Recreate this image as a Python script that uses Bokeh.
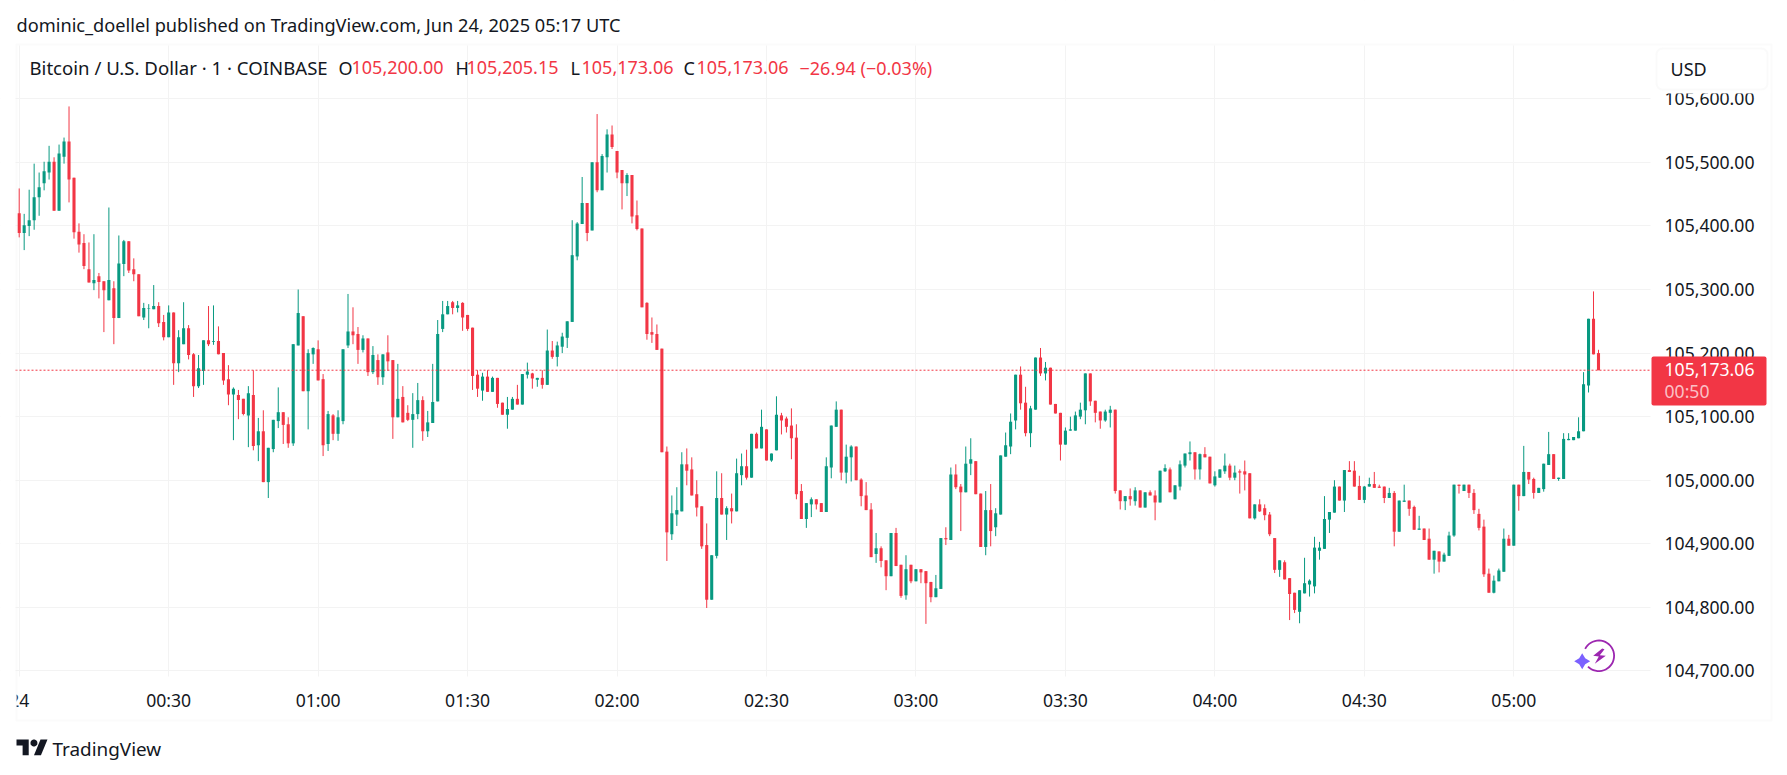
import math
from bokeh.embed import file_html
from bokeh.resources import INLINE
from bokeh.plotting import figure
from bokeh.models import (ColumnDataSource, FixedTicker, NumeralTickFormatter, Label,
                          BoxAnnotation, PolyAnnotation)

title_text = "dominic_doellel published on TradingView.com, Jun 24, 2025 05:17 UTC"
symbol_text = "Bitcoin / U.S. Dollar \u00b7 1 \u00b7 COINBASE"
ohlc_labels = ["O", "H", "L", "C"]
ohlc_values = ["105,200.00", "105,205.15", "105,173.06", "105,173.06"]
change_text = "\u221226.94 (\u22120.03%)"
last_price = 105173.06
price_ticks = [104700, 104800, 104900, 105000, 105100, 105200, 105300, 105400, 105500, 105600]
time_ticks = [0, 30, 60, 90, 120, 150, 180, 210, 240, 270, 300]
time_labels = ["24", "00:30", "01:00", "01:30", "02:00", "02:30", "03:00", "03:30", "04:00", "04:30", "05:00"]

opens = [
105420,105389,105400,105409,105445,105467,105484,105501,105424,105509,
105533,105476,105391,105373,105332,105310,105321,105313,105283,105302,
105255,105340,105376,105332,105324,105256,105270,105269,105274,105249,
105225,105264,105184,105214,105239,105198,105148,105172,105220,105218,
105219,105200,105159,105135,105134,105128,105102,105134,105055,105077,
104997,105049,105093,105107,105088,105058,105212,105258,105140,105198,
105206,105159,105057,105102,105073,105093,105212,105234,105230,105205,
105223,105170,105189,105162,105201,105189,105099,105131,105106,105095,
105104,105126,105077,105090,105124,105238,105261,105280,105271,105279,
105260,105240,105166,105141,105163,105139,105161,105122,105103,105111,
105128,105119,105166,105168,105158,105161,105150,105204,105194,105210,
105224,105249,105352,105403,105436,105393,105500,105456,105508,105544,
105518,105488,105467,105480,105417,105396,105279,105233,105230,105207,
105045,104915,104946,104951,105025,105017,104978,104959,104898,104812,
104881,104972,104946,104956,104951,105008,105022,105004,105073,105050,
105080,105031,105047,105102,105097,105086,105067,104983,104939,104962,
104970,104964,104950,105020,105084,105111,105012,105036,105053,105001,
104976,104954,104884,104893,104874,104849,104917,104867,104819,104867,
104841,104860,104857,104840,104816,104829,104909,104906,105009,104990,
104981,105026,105030,104979,104895,104953,104926,104946,105037,105053,
105094,105166,105122,105074,105111,105193,105168,105177,105120,105106,
105056,105078,105078,105100,105110,105168,105125,105108,105094,105106,
105111,104984,104967,104975,104967,104984,104957,104981,104976,104965,
105014,105017,104970,104990,105023,105041,105044,105017,105041,105037,
104992,105004,105014,105023,105004,105014,105014,105011,104940,104962,
104956,104946,104909,104859,104871,104846,104823,104793,104822,104836,
104833,104889,104892,104938,104949,104990,104968,105016,105015,104991,
104969,104990,104994,104990,104990,104972,104980,104919,104966,104968,
104958,104922,104924,104908,104875,104888,104872,104881,104913,104993,
104983,104993,104980,104947,104927,104853,104823,104841,104856,104908,
104897,104993,104975,105013,105002,104980,104986,105024,105041,105002,
105002,105063,105063,105066,105077,105149,105254,105200]

closes = [
105389,105401,105409,105445,105461,105486,105501,105424,105514,105533,
105473,105390,105371,105337,105311,105315,105312,105299,105315,105255,
105341,105376,105330,105324,105258,105271,105271,105274,105247,105225,
105264,105184,105225,105239,105197,105148,105176,105220,105214,105219,
105198,105157,105135,105144,105126,105104,105137,105054,105077,104997,
105051,105095,105107,105087,105058,105214,105263,105140,105200,105208,
105157,105055,105104,105073,105099,105206,105234,105228,105205,105223,
105170,105197,105162,105198,105187,105099,105128,105091,105095,105104,
105126,105077,105091,105123,105230,105261,105274,105271,105275,105256,
105238,105164,105144,105163,105139,105161,105120,105103,105112,105128,
105119,105167,105171,105160,105161,105150,105204,105194,105212,105226,
105250,105354,105404,105436,105389,105500,105456,105510,105544,105524,
105484,105467,105480,105415,105395,105272,105230,105229,105205,105044,
104918,104948,104953,105025,105015,104976,104957,104896,104812,104882,
104972,104946,104956,104951,105011,105022,105004,105073,105050,105084,
105031,105042,105103,105094,105084,105066,104978,104939,104964,104970,
104962,104950,105022,105086,105111,105012,105037,105053,105000,104975,
104953,104879,104893,104873,104849,104917,104865,104818,104860,104841,
104860,104855,104838,104816,104830,104909,104907,105009,104989,104981,
105026,105033,104978,104895,104953,104920,104948,105039,105055,105092,
105166,105121,105074,105113,105193,105168,105177,105119,105105,105056,
105078,105080,105102,105111,105168,105124,105106,105094,105108,105111,
104983,104967,104975,104970,104984,104957,104981,104976,104965,105015,
105019,104981,104992,105025,105042,105044,105017,105041,105036,104995,
105006,105017,105023,105004,105012,105012,105009,104940,104962,104951,
104945,104915,104859,104874,104844,104821,104796,104827,104838,104842,
104894,104894,104939,104950,104990,104968,105016,105013,104990,104969,
104990,104994,104988,104988,104972,104980,104919,104968,104968,104955,
104922,104924,104906,104875,104889,104872,104883,104913,104993,104991,
104993,104980,104953,104925,104852,104823,104842,104858,104908,104897,
104993,104975,105013,105001,104980,104988,105026,105041,105002,105004,
105065,105065,105068,105077,105151,105254,105198,105173.06]

highs = [
105459,105419,105457,105498,105484,105501,105526,105508,105528,105539,
105588,105476,105404,105387,105374,105387,105326,105313,105429,105313,
105385,105378,105376,105349,105324,105279,105277,105307,105280,105260,
105275,105264,105236,105280,105244,105200,105197,105220,105274,105275,
105242,105200,105181,105146,105142,105128,105148,105173,105098,105110,
105051,105095,105146,105107,105099,105214,105300,105258,105206,105209,
105220,105167,105109,105104,105110,105206,105293,105272,105241,105228,
105223,105211,105198,105198,105228,105189,105183,105148,105118,105137,
105153,105132,105109,105183,105252,105282,105282,105282,105282,105280,
105260,105240,105173,105169,105173,105163,105161,105122,105131,105131,
105150,105167,105185,105169,105161,105173,105237,105219,105218,105232,
105250,105409,105406,105477,105436,105500,105576,105513,105552,105558,
105518,105488,105483,105480,105440,105396,105280,105256,105245,105207,
105053,104976,104989,105044,105050,105036,105000,104959,104932,104882,
105014,105011,104959,104979,105034,105042,105048,105073,105075,105111,
105080,105042,105132,105106,105100,105113,105088,104994,104964,104973,
104970,104964,105036,105086,105124,105111,105056,105055,105053,105003,
104997,104964,104917,104896,104874,104917,104925,104867,104882,104867,
104860,104860,104857,104840,104851,104909,104926,105020,105025,104994,
105053,105066,105030,104979,104983,104994,104956,105039,105075,105105,
105166,105179,105147,105117,105193,105208,105186,105177,105120,105106,
105083,105100,105108,105122,105168,105168,105125,105108,105111,105117,
105111,104984,104975,104987,104989,104984,104981,104984,104984,105015,
105025,105020,104992,105031,105042,105061,105044,105042,105052,105037,
105014,105017,105042,105026,105023,105017,105031,105011,104962,104970,
104962,104950,104909,104874,104874,104846,104823,104827,104878,104844,
104911,104903,104975,104950,105000,104990,105016,105030,105030,105007,
104991,105004,105013,104993,104990,104988,104983,104968,104993,104968,
104960,104944,104924,104924,104889,104888,104886,104919,104993,104993,
104993,104993,104986,104955,104938,104861,104850,104861,104924,104914,
104993,104993,105054,105013,105004,104988,105026,105076,105041,105004,
105074,105074,105068,105099,105170,105254,105297,105205.15]

lows = [
105382,105362,105384,105394,105416,105456,105473,105424,105424,105498,
105437,105380,105358,105332,105311,105299,105286,105233,105283,105214,
105255,105321,105326,105313,105258,105252,105239,105269,105241,105220,
105225,105150,105170,105214,105190,105131,105145,105150,105211,105213,
105198,105150,105118,105063,105096,105102,105052,105047,105030,104997,
104972,105044,105082,105057,105051,105054,105212,105140,105080,105183,
105157,105038,105046,105063,105062,105088,105208,105214,105183,105201,
105164,105167,105150,105150,105172,105065,105099,105091,105093,105051,
105096,105062,105068,105090,105124,105233,105261,105261,105264,105235,
105235,105142,105131,105125,105139,105139,105114,105103,105081,105111,
105119,105119,105160,105144,105147,105144,105150,105191,105179,105200,
105208,105249,105346,105403,105376,105393,105453,105456,105484,105521,
105475,105426,105447,105404,105393,105272,105221,105216,105205,105044,
104873,104906,104928,104951,104992,104976,104943,104892,104799,104812,
104877,104946,104906,104932,104951,104992,105001,105004,105050,105050,
105031,105029,105047,105072,105075,105033,104970,104939,104925,104942,
104954,104950,104950,105003,105084,105000,104995,104998,105000,104959,
104953,104879,104870,104863,104827,104849,104865,104815,104812,104838,
104841,104838,104774,104808,104816,104829,104898,104906,104986,104920,
104981,105008,104978,104895,104882,104896,104912,104946,105037,105041,
105080,105111,105069,105052,105111,105164,105157,105119,105105,105031,
105056,105078,105078,105096,105088,105117,105091,105081,105092,105083,
104979,104954,104953,104960,104960,104957,104957,104976,104937,104965,
105013,104981,104970,104984,105020,105031,105001,105001,105036,104995,
104990,105004,105010,105000,105000,104979,104984,104940,104938,104950,
104937,104912,104854,104848,104844,104780,104791,104775,104822,104817,
104822,104875,104892,104917,104949,104968,104950,105013,104990,104969,
104964,104990,104988,104988,104964,104972,104896,104919,104966,104944,
104922,104922,104906,104875,104853,104855,104872,104881,104911,104979,
104983,104972,104947,104921,104848,104823,104822,104841,104856,104897,
104897,104952,104975,104994,104971,104980,104982,105024,105002,104999,
105002,105063,105063,105066,105077,105138,105198,105173.06]

GREEN = "#089981"
RED = "#F23645"
INK = "#131722"
GRID = "#f3f3f3"
FONT = "Noto Sans"
FS = "18px"

W, H = 1787, 772
PANE_L, PANE_R, PANE_T, PANE_B = 17, 1650, 45, 676   # canvas pixels
PX_PER_BAR = 4.982
PX_PER_USD = 0.6357


def m_at(px):
    return (px - 18.7) / PX_PER_BAR


def price_at(py):
    return 105600 - (py - 98.3) / PX_PER_USD


minutes = list(range(len(opens)))
src = ColumnDataSource(dict(
    t=minutes, o=opens, h=highs, l=lows, c=closes,
    top=[max(a, b) for a, b in zip(opens, closes)],
    bot=[min(a, b) for a, b in zip(opens, closes)],
    col=[GREEN if c >= o else RED for o, c in zip(opens, closes)],
))

p = figure(width=W, height=H, output_backend="svg", toolbar_location=None,
           x_range=(m_at(0), m_at(W)), y_range=(price_at(H), price_at(0)),
           y_axis_location="right", min_border=0,
           background_fill_color="white", border_fill_color="white")
p.outline_line_color = None

p.xaxis.ticker = FixedTicker(ticks=time_ticks)
p.xaxis.major_label_overrides = dict(zip(time_ticks, time_labels))
p.yaxis.ticker = FixedTicker(ticks=price_ticks)
p.yaxis.formatter = NumeralTickFormatter(format="0,0.00")
p.xaxis.fixed_location = price_at(PANE_B)
p.yaxis.fixed_location = m_at(PANE_R)
for ax in (p.xaxis[0], p.yaxis[0]):
    ax.axis_line_color = None
    ax.major_tick_line_color = None
    ax.minor_tick_line_color = None
    ax.major_label_text_font = FONT
    ax.major_label_text_font_size = "17.6px"
    ax.major_label_text_color = INK
p.xaxis.major_label_standoff = 5
p.yaxis.major_label_standoff = 8
p.xgrid.ticker = FixedTicker(ticks=time_ticks)
p.ygrid.ticker = FixedTicker(ticks=price_ticks)
p.xgrid.grid_line_color = GRID
p.ygrid.grid_line_color = GRID
p.xgrid.grid_line_width = 1
p.ygrid.grid_line_width = 1


def box(l, r, t, b, **kw):
    p.add_layout(BoxAnnotation(left=l, right=r, top=t, bottom=b,
                               left_units="canvas", right_units="canvas",
                               top_units="canvas", bottom_units="canvas", **kw))


def poly(pts, color):
    p.add_layout(PolyAnnotation(xs=[a for a, _ in pts], ys=[b for _, b in pts],
                                xs_units="canvas", ys_units="canvas",
                                fill_color=color, fill_alpha=1, line_color=None))


def text(x, y, s, color=INK, size=FS, align="left", alpha=1.0):
    p.add_layout(Label(x=x, y=y, x_units="canvas", y_units="canvas", text=s,
                       text_font=FONT, text_font_size=size, text_color=color, text_alpha=alpha,
                       text_baseline="middle", text_align=align))


# white covers keep the grid inside the chart pane
for rect in [(0, PANE_L - 2, 0, H), (PANE_R, W, 0, H), (0, W, 0, PANE_T), (0, W, PANE_B, H)]:
    box(*rect, fill_color="white", fill_alpha=1, line_color=None, level="underlay")

p.segment("t", "h", "t", "l", source=src, line_color="col", line_width=1)
p.vbar(x="t", top="top", bottom="bot", width=0.62, source=src, fill_color="col", line_color=None)
p.line(x=[m_at(PANE_L - 2), m_at(PANE_R)], y=[last_price, last_price],
       line_color=RED, line_width=1, line_dash=[2, 2])

# cover that clips the first time label, then the widget border
box(0, 16, 676, 720, fill_color="white", fill_alpha=1, line_color=None)
box(16, 1771, 44, 720, fill_alpha=0, line_color=GRID, line_width=2)

text(16, 24, title_text, size="18.2px")
text(29, 67, symbol_text, size="18.6px")
lab_x = [338, 455, 570, 683]
val_x = [351, 466, 581, 696]
for lx, vx, a, b in zip(lab_x, val_x, ohlc_labels, ohlc_values):
    text(lx, 67, a)
    text(vx, 67, b, color=RED)
text(799, 67, change_text, color=RED)

# currency button; its strip hides the top of the highest price label
box(1652, 1770, 88, 93, fill_color="white", fill_alpha=1, line_color=None)
box(1656, 1767, 48, 89, fill_color="white", fill_alpha=1, line_color="#eeeeee", line_width=2,
    border_radius=6)
text(1670, 68, "USD")

# last price tag
box(1651, 1766, 356, 405, fill_color=RED, fill_alpha=1, line_color=None, border_radius=2)
text(1664, 369, "105,173.06", color="white", size="17.6px")
text(1664, 390, "00:50", color="white", alpha=0.7, size="17.6px")

# TradingView logo
LS, LX, LY = 0.873, 16, 735.5


def lg(pts):
    return [(LX + a * LS, LY + b * LS) for a, b in pts]


poly(lg([(0, 4), (14, 4), (14, 22), (7, 22), (7, 11), (0, 11)]), INK)
poly(lg([(28, 22), (20, 22), (27.5, 4), (35.5, 4)]), INK)
poly(lg([(20 + 4 * math.cos(math.radians(d)), 8 + 4 * math.sin(math.radians(d))) for d in range(0, 360, 20)]), INK)
text(52, 748, "TradingView", size="18.9px")

# lightning badge
ICX, ICY = 1598.3, 655.3
angs = list(range(-135, 161, 8))
outer = [(ICX + 16.2 * math.cos(math.radians(a)), ICY + 16.2 * math.sin(math.radians(-a))) for a in angs]
inner = [(ICX + 14.4 * math.cos(math.radians(a)), ICY + 14.4 * math.sin(math.radians(-a))) for a in reversed(angs)]
poly(outer + inner, "#9C27B0")
poly([(1601.7, 648), (1592.7, 655.3), (1598.3, 656), (1594.3, 663.3), (1605.3, 655.3), (1599.3, 654.7), (1604, 648.7)], "#9C27B0")
SX, SY = 1581.7, 660.7
poly([(SX, SY - 8), (SX + 3, SY - 3), (SX + 8, SY), (SX + 3, SY + 3), (SX, SY + 8), (SX - 3, SY + 3), (SX - 8, SY), (SX - 3, SY - 3)], "#7B61FF")

with open("out.html", "w") as f:
    f.write(file_html(p, INLINE))
